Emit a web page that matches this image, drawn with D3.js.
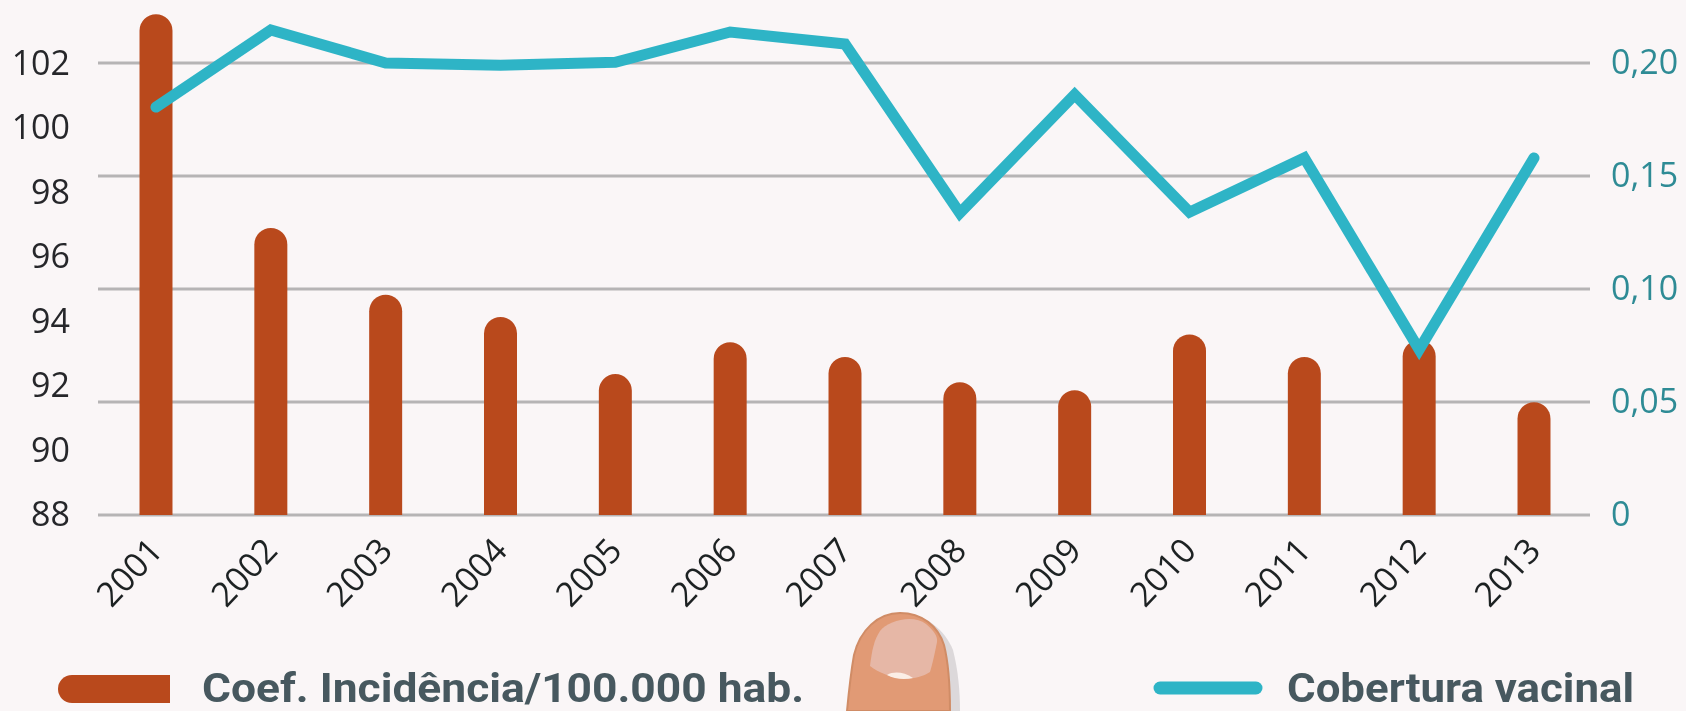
<!DOCTYPE html>
<html><head><meta charset="utf-8">
<script src="https://cdn.jsdelivr.net/npm/d3@7"></script>
<style>
html,body{margin:0;padding:0;background:#faf6f7;}
svg{display:block;}
</style></head><body>
<svg id="c" width="1686" height="711"></svg>
<script>
const years = ["2001","2002","2003","2004","2005","2006","2007","2008","2009","2010","2011","2012","2013"];
const incidence = [103.53,96.9,94.83,94.14,92.37,93.36,92.9,92.12,91.87,93.6,92.9,93.43,91.5];
const coverage = [0.1805,0.2146,0.2,0.199,0.2003,0.2137,0.2084,0.1336,0.186,0.134,0.158,0.0732,0.158];
const leftTicks = [88,90,92,94,96,98,100,102];
const rightTicks = [0,0.05,0.10,0.15,0.20];
const legendLabels = ["Coef. Incidência/100.000 hab.","Cobertura vacinal"];

const svg = d3.select("#c");
const defs = svg.append("defs");
defs.append("filter").attr("id","soft").attr("filterUnits","userSpaceOnUse")
  .attr("x",0).attr("y",0).attr("width",1686).attr("height",711)
  .append("feGaussianBlur").attr("stdDeviation",0.7);
const root = svg.append("g").attr("filter","url(#soft)");
const baseY = 515, gridL = 98, gridR = 1590;

const x = d3.scalePoint().domain(years).range([156,1534]);
const yL = d3.scaleLinear().domain([88,102]).range([baseY,63.5]);
const yR = d3.scaleLinear().domain([0,0.20]).range([baseY,63]);
const barW = 33, r = barW/2;

root.append("g").selectAll("line").data(rightTicks).join("line")
  .attr("x1",gridL).attr("x2",gridR).attr("y1",d=>yR(d)).attr("y2",d=>yR(d))
  .attr("stroke","#b6b4b5").attr("stroke-width",3);

root.append("g").selectAll("path").data(incidence).join("path")
  .attr("fill","#b94a1f")
  .attr("d",(d,i)=>{
    const cx=x(years[i]), t=yL(d);
    return `M${cx-r},${baseY}V${t+r}A${r},${r} 0 0 1 ${cx+r},${t+r}V${baseY}Z`;
  });

root.append("path").datum(coverage)
  .attr("fill","none").attr("stroke","#2fb4c6").attr("stroke-width",11)
  .attr("stroke-linejoin","miter").attr("stroke-linecap","round")
  .attr("d",d3.line().x((d,i)=>x(years[i])).y(d=>yR(d)));

const axL = root.append("g").attr("transform",`translate(70,0)`)
  .call(d3.axisLeft(yL).tickValues(leftTicks).tickSize(0).tickPadding(0));
axL.select(".domain").remove();
axL.selectAll("text").attr("font-size",34).attr("fill","#26282b").attr("font-family","Open Sans").attr("dy","0.32em");

const fmtR = d=> d===0 ? "0" : d3.format(".2f")(d).replace(".",",");
const axR = root.append("g").attr("transform",`translate(1611,0)`)
  .call(d3.axisRight(yR).tickValues(rightTicks).tickFormat(fmtR).tickSize(0).tickPadding(0));
axR.select(".domain").remove();
axR.selectAll("text").attr("font-size",34).attr("fill","#2e8b95").attr("font-family","Open Sans").attr("dy","0.3em");

const axB = root.append("g").attr("transform",`translate(0,${baseY})`)
  .call(d3.axisBottom(x).tickSize(0).tickPadding(0));
axB.select(".domain").remove();
axB.selectAll("text").attr("font-size",34).attr("fill","#1f2124").attr("font-family","Open Sans")
  .attr("text-anchor","end").attr("dy",0).attr("y",0)
  .attr("transform","translate(8,37) rotate(-47)");

// finger illustration
const fing = root.append("g");
fing.append("path").attr("fill","#dcd8da")
  .attr("d","M900,711V613C925,613 945,630 953,650C958,670 960,690 960,711Z");
fing.append("path").attr("fill","#e19a74").attr("stroke","#d08c66").attr("stroke-width",2)
  .attr("d","M847,711C849,690 851,672 854,655C860,630 878,613 900,613C922,613 938,626 944,645C949,665 950,690 950,711Z");
fing.append("path").attr("fill","#e6b7a6")
  .attr("d","M870,666C872,650 874,640 880,631C888,620 914,614 926,624C933,630 938,636 937,642C935,652 933,662 930,672C921,678 908,680 898,678C888,676 878,672 870,666Z");
fing.append("path").attr("fill","#fbeee6")
  .attr("d","M887,675C894,671 904,672 913,678C904,680 894,679 887,675Z");

// legend
const lg = root.append("g");
lg.append("path").attr("fill","#b94a1f")
  .attr("d","M170,675H72A14,14 0 0 0 72,703H170Z");
lg.append("line").attr("x1",1160).attr("x2",1256).attr("y1",688).attr("y2",688)
  .attr("stroke","#2fb4c6").attr("stroke-width",13).attr("stroke-linecap","round");
lg.append("text").attr("x",202).attr("y",702).text(legendLabels[0])
  .attr("font-family","Roboto").attr("font-weight",700).attr("font-size",40).attr("fill","#47595f")
  .attr("textLength",602).attr("lengthAdjust","spacingAndGlyphs");
lg.append("text").attr("x",1287).attr("y",702).text(legendLabels[1])
  .attr("font-family","Roboto").attr("font-weight",700).attr("font-size",40).attr("fill","#47595f")
  .attr("textLength",347).attr("lengthAdjust","spacingAndGlyphs");
</script>
</body></html>
